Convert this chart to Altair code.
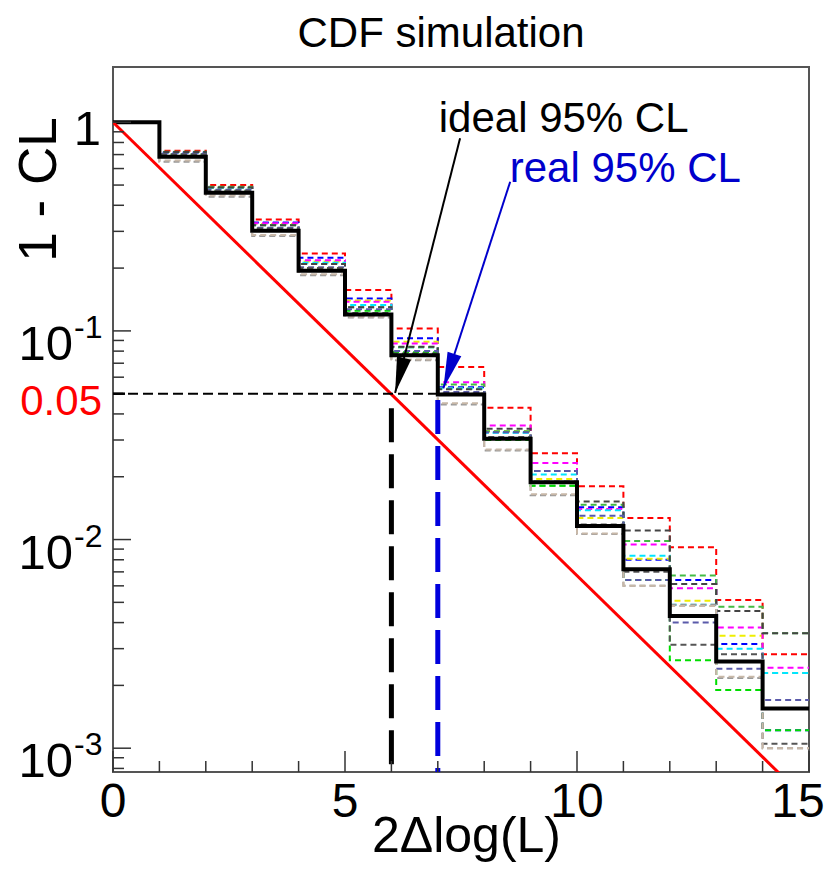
import altair as alt
import pandas as pd

FONT = "Liberation Sans"
W, H = 696, 705

# ---------------- data ----------------
bin_edges = list(range(0, 16))

black_hist = [1.0, 0.684, 0.459, 0.302, 0.194, 0.120, 0.0764, 0.0496, 0.0304,
              0.0188, 0.0116, 0.0072, 0.0043, 0.0026, 0.00155]

toy_names = ["red", "blue", "yellow", "magenta", "cyan", "green", "dgray",
             "lime", "slate", "dgray2", "gray", "tan"]
toy_colors = ["#ff0000", "#0000ff", "#eeee00", "#ff00ff", "#00e5ff", "#44bb44",
              "#444444", "#00dd00", "#5a5aaa", "#555555", "#999999", "#c8b8a8"]
toy_values = {
    "red":     [1, 0.73, 0.50, 0.342, 0.235, 0.157, 0.1026, 0.0671, 0.0428, 0.0259, 0.0180, 0.0127, 0.00918, 0.00513, 0.00282],
    "blue":    [1, 0.715, 0.488, 0.331, 0.224, 0.143, 0.0922, 0.0537, 0.0327, 0.0213, 0.0143, 0.0080, 0.0064, 0.00316, 0.00122],
    "yellow":  [1, 0.718, 0.485, 0.325, 0.215, 0.140, 0.0887, 0.0530, 0.0330, 0.0195, 0.0127, 0.0081, 0.00509, 0.00346, 0.00229],
    "magenta": [1, 0.72, 0.49, 0.328, 0.218, 0.138, 0.0870, 0.0568, 0.0352, 0.0233, 0.0140, 0.00946, 0.00584, 0.00379, 0.00243],
    "cyan":    [1, 0.718, 0.486, 0.322, 0.212, 0.133, 0.0835, 0.0530, 0.0325, 0.0205, 0.0138, 0.00836, 0.00487, 0.00300, 0.00229],
    "green":   [1, 0.722, 0.491, 0.321, 0.209, 0.130, 0.0835, 0.0554, 0.0330, 0.0181, 0.0147, 0.00983, 0.00673, 0.00476, 0.00356],
    "dgray":   [1, 0.72, 0.487, 0.321, 0.209, 0.130, 0.0840, 0.0525, 0.0340, 0.0213, 0.0152, 0.01105, 0.00612, 0.00455, 0.00356],
    "lime":    [1, 0.70, 0.47, 0.31, 0.20, 0.125, 0.0790, 0.0496, 0.0300, 0.0181, 0.0115, 0.0064, 0.00264, 0.00190, 0.00122],
    "slate":   [1, 0.705, 0.475, 0.312, 0.202, 0.127, 0.0800, 0.0510, 0.0327, 0.0213, 0.0130, 0.0064, 0.0040, 0.00240, 0.00170],
    "dgray2":  [1, 0.70, 0.47, 0.31, 0.20, 0.122, 0.0780, 0.0500, 0.0310, 0.0190, 0.0118, 0.0070, 0.00313, 0.00282, 0.00105],
    "gray":    [1, 0.647, 0.44, 0.285, 0.185, 0.116, 0.0723, 0.0444, 0.0267, 0.0163, 0.01064, 0.00601, 0.00487, 0.00217, 0.00100],
    "tan":     [1, 0.655, 0.445, 0.288, 0.187, 0.117, 0.0730, 0.0450, 0.0270, 0.0165, 0.0107, 0.0060, 0.0048, 0.0022, 0.00100],
}

# ideal reference line end points
red_x = [0, 15]
red_y = [1.0, 0.00055]

cl_level = 0.05
ideal_x, real_x = 6, 7

arrow_ideal = dict(x=7.48, y=0.838, x2=6.08, y2=0.0504, ang=14.3)
arrow_real = dict(x=8.56, y=0.519, x2=7.12, y2=0.0531, ang=17.9)

ann_ideal = dict(x=7.02, y=0.902, text="ideal 95% CL")
ann_real = dict(x=8.55, y=0.519, text="real 95% CL")

x_major = [0, 5, 10, 15]
x_minor = [1, 2, 3, 4, 6, 7, 8, 9, 11, 12, 13, 14]
x_labels = ["0", "5", "10", "15"]
y_major = [1, 0.1, 0.01, 0.001]
y_minor = [m * 10.0 ** k for k in (-4, -3, -2, -1, 0) for m in range(2, 10)
           if 0.00077 < m * 10.0 ** k < 1.84]

# ---------------- tables ----------------
def step_rows(vals):
    v = list(vals) + [vals[-1]]
    return list(zip(bin_edges, v))

toy_df = pd.DataFrame([{"x": x, "y": y, "s": n}
                       for n in toy_names for x, y in step_rows(toy_values[n])])
black_df = pd.DataFrame([{"x": x, "y": y} for x, y in step_rows(black_hist)])
red_df = pd.DataFrame({"x": red_x, "y": red_y})

xs = alt.Scale(domain=[0, 15], nice=False, zero=False)
ys = alt.Scale(type="log", domain=[0.000769, 1.84], nice=False)

x_axis = alt.Axis(labels=False, ticks=False, domain=False, grid=False,
                  title="2\u0394log(L)", titleFont=FONT, titleFontSize=50,
                  titleFontWeight="normal", titleColor="black",
                  titleX=353, titleY=79, titleAlign="center", titleBaseline="alphabetic")
y_axis = alt.Axis(labels=False, ticks=False, domain=False, grid=False,
                  title="1 - CL", titleFont=FONT, titleFontSize=53,
                  titleFontWeight="normal", titleColor="black", titleAngle=270,
                  titleX=-58, titleY=122, titleAlign="center", titleBaseline="alphabetic")

X = alt.X("x:Q", scale=xs, axis=x_axis)
Y = alt.Y("y:Q", scale=ys, axis=y_axis)
X2 = alt.X2("x2")
Y2 = alt.Y2("y2")

toys = alt.Chart(toy_df).mark_line(interpolate="step-after", strokeWidth=2,
                                   strokeDash=[6, 4], clip=True).encode(
    x=X, y=Y,
    color=alt.Color("s:N", scale=alt.Scale(domain=toy_names, range=toy_colors), legend=None),
    detail="s:N")

black = alt.Chart(black_df).mark_line(interpolate="step-after", strokeWidth=4,
                                      color="black", clip=True).encode(x=X, y=Y)

red = alt.Chart(red_df).mark_line(color="#ff0000", strokeWidth=3, clip=True).encode(x=X, y=Y)

hline = alt.Chart(pd.DataFrame({"x": [0], "x2": [8], "y": [cl_level]})).mark_rule(
    color="black", strokeWidth=2, strokeDash=[10, 5]).encode(x=X, x2=X2, y=Y)

vlines_black = alt.Chart(pd.DataFrame({"x": [ideal_x], "y": [0.0426], "y2": [0.000769]})).mark_rule(
    color="black", strokeWidth=5, strokeDash=[34, 12]).encode(x=X, y=Y, y2=Y2)
vlines_blue = alt.Chart(pd.DataFrame({"x": [real_x], "y": [0.0467], "y2": [0.000769]})).mark_rule(
    color="#0000dd", strokeWidth=5, strokeDash=[34, 12]).encode(x=X, y=Y, y2=Y2)

head_shape = "M0,0 L-0.4,-2 L0.4,-2 Z"

def arrow(a, col):
    d = pd.DataFrame([a])
    line = alt.Chart(d).mark_rule(color=col, strokeWidth=2).encode(x=X, y=Y, x2=X2, y2=Y2)
    dh = pd.DataFrame([{"x": a["x2"], "y": a["y2"], "ang": a["ang"]}])
    head = alt.Chart(dh).mark_point(shape=head_shape, filled=True, size=1300,
                                    color=col, opacity=1, strokeWidth=0).encode(
        x=X, y=Y, angle=alt.Angle("ang:Q", scale=None))
    return line + head

def ann(a, col):
    return alt.Chart(pd.DataFrame([a])).mark_text(
        align="left", baseline="alphabetic", font=FONT, fontSize=42, color=col).encode(
        x=X, y=Y, text="text:N")

tick_style = dict(color="#333333", strokeWidth=1.5)
xt_major = alt.Chart(pd.DataFrame({"x": x_major})).mark_rule(**tick_style).encode(
    x=X, y=alt.value(H), y2=alt.value(H - 21))
xt_minor = alt.Chart(pd.DataFrame({"x": x_minor})).mark_rule(**tick_style).encode(
    x=X, y=alt.value(H), y2=alt.value(H - 11))
yt_major = alt.Chart(pd.DataFrame({"y": y_major})).mark_rule(**tick_style).encode(
    y=Y, x=alt.value(0), x2=alt.value(18))
yt_minor = alt.Chart(pd.DataFrame({"y": y_minor})).mark_rule(**tick_style).encode(
    y=Y, x=alt.value(0), x2=alt.value(11))
yt_cl = alt.Chart(pd.DataFrame({"y": [cl_level]})).mark_rule(color="black", strokeWidth=2.5).encode(
    y=Y, x=alt.value(0), x2=alt.value(12))

# x tick labels
xl_df = pd.DataFrame({"x": x_major, "t": x_labels})
lab_x = alt.Chart(xl_df[xl_df.x < 15]).mark_text(
    align="center", baseline="alphabetic", font=FONT, fontSize=48, color="black").encode(
    x=X, y=alt.value(H + 45), text="t:N")
lab_x_last = alt.Chart(xl_df[xl_df.x == 15]).mark_text(
    align="center", baseline="alphabetic", font=FONT, fontSize=48, color="black", dx=-11).encode(
    x=X, y=alt.value(H + 45), text="t:N")

# y tick labels (ROOT style with superscript exponents)
lab_one = alt.Chart(pd.DataFrame({"y": [1], "t": ["1"]})).mark_text(
    align="right", baseline="alphabetic", font=FONT, fontSize=49, dy=23, color="black").encode(
    y=Y, x=alt.value(-12), text="t:N")
lab_ten = alt.Chart(pd.DataFrame({"y": [0.1, 0.01, 0.001], "t": ["10", "10", "10"]})).mark_text(
    align="right", baseline="alphabetic", font=FONT, fontSize=49, dy=29, color="black").encode(
    y=Y, x=alt.value(-40), text="t:N")
lab_exp = alt.Chart(pd.DataFrame({"y": [0.1, 0.01, 0.001], "t": ["-1", "-2", "-3"]})).mark_text(
    align="left", baseline="alphabetic", font=FONT, fontSize=32, dy=7, color="black").encode(
    y=Y, x=alt.value(-39), text="t:N")
lab_cl = alt.Chart(pd.DataFrame({"y": [cl_level], "t": ["0.05"]})).mark_text(
    align="right", baseline="alphabetic", font=FONT, fontSize=42, dy=21, color="#ff0000").encode(
    y=Y, x=alt.value(-11), text="t:N")

title_txt = alt.Chart(pd.DataFrame({"t": ["CDF simulation"]})).mark_text(
    align="center", baseline="alphabetic", font=FONT, fontSize=42, color="black").encode(
    x=alt.value(328), y=alt.value(-20), text="t:N")

chart = alt.layer(
    toys, black, red, hline, vlines_black, vlines_blue,
    arrow(arrow_ideal, "black"), arrow(arrow_real, "#0000cc"),
    ann(ann_ideal, "black"), ann(ann_real, "#0000cc"),
    xt_major, xt_minor, yt_major, yt_minor, yt_cl,
    lab_x, lab_x_last, lab_one, lab_ten, lab_exp, lab_cl, title_txt,
).properties(
    width=W, height=H,
    background="white",
    autosize=alt.AutoSizeParams(type="none"),
    padding={"left": 105, "top": 59, "right": 23, "bottom": 92},
).configure_view(stroke="#555555", strokeWidth=2)

chart.save("out.html", embed_options={"renderer": "svg", "actions": False})
